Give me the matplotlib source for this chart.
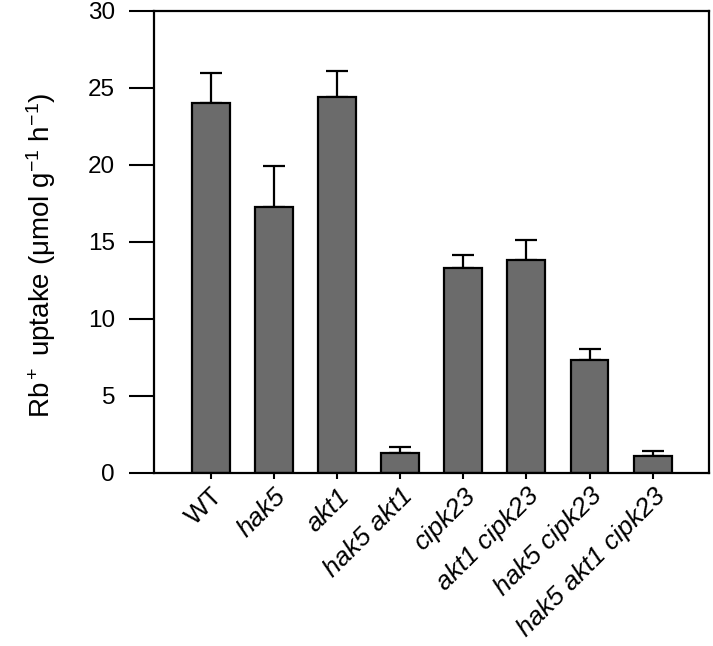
import numpy as np
import matplotlib
matplotlib.use("Agg")
import matplotlib.pyplot as plt

plt.rcParams['font.family'] = ['Liberation Sans', 'DejaVu Sans']
plt.rcParams['mathtext.fontset'] = 'custom'
plt.rcParams['mathtext.rm'] = 'Liberation Sans'
plt.rcParams['mathtext.it'] = 'Liberation Sans:italic'

# data
genotypes = ['WT', 'hak5', 'akt1', 'hak5 akt1', 'cipk23',
             'akt1 cipk23', 'hak5 cipk23', 'hak5 akt1 cipk23']
uptake = [24.0, 17.3, 24.4, 1.28, 13.3, 13.8, 7.3, 1.1]
sem = [2.0, 2.6, 1.7, 0.4, 0.85, 1.3, 0.75, 0.33]

fig = plt.figure(figsize=(7.13, 6.46), dpi=100)
ax = fig.add_axes([0.216, 0.268, 0.779, 0.715])

x = np.arange(len(genotypes))
ax.bar(x, uptake, width=0.6, color='#6b6b6b', edgecolor='black', linewidth=1.6, zorder=2)
ax.errorbar(x, uptake, yerr=[np.zeros(len(sem)), sem], fmt='none', ecolor='black',
            elinewidth=1.6, capsize=8, capthick=1.6, zorder=1)

ax.set_xlim(-0.9, 7.9)
ax.set_ylim(0, 30)
ax.set_yticks([0, 5, 10, 15, 20, 25, 30])
ax.tick_params(axis='y', length=18, width=1.5, labelsize=17.5, pad=10)
ax.tick_params(axis='x', length=4, width=1.5, labelsize=19, pad=4)
for s in ax.spines.values():
    s.set_linewidth(1.6)

ax.set_xticks(x)
ax.set_xticklabels(genotypes, rotation=45, ha='right', rotation_mode='anchor')
for lab in ax.get_xticklabels():
    if lab.get_text() != 'WT':
        lab.set_fontstyle('italic')

ax.set_ylabel(r'Rb$^+$ uptake (μmol g$^{-1}$ h$^{-1}$)', fontsize=20)
ax.yaxis.set_label_coords(-0.172, 0.47)

fig.savefig('out.png', dpi=100)
